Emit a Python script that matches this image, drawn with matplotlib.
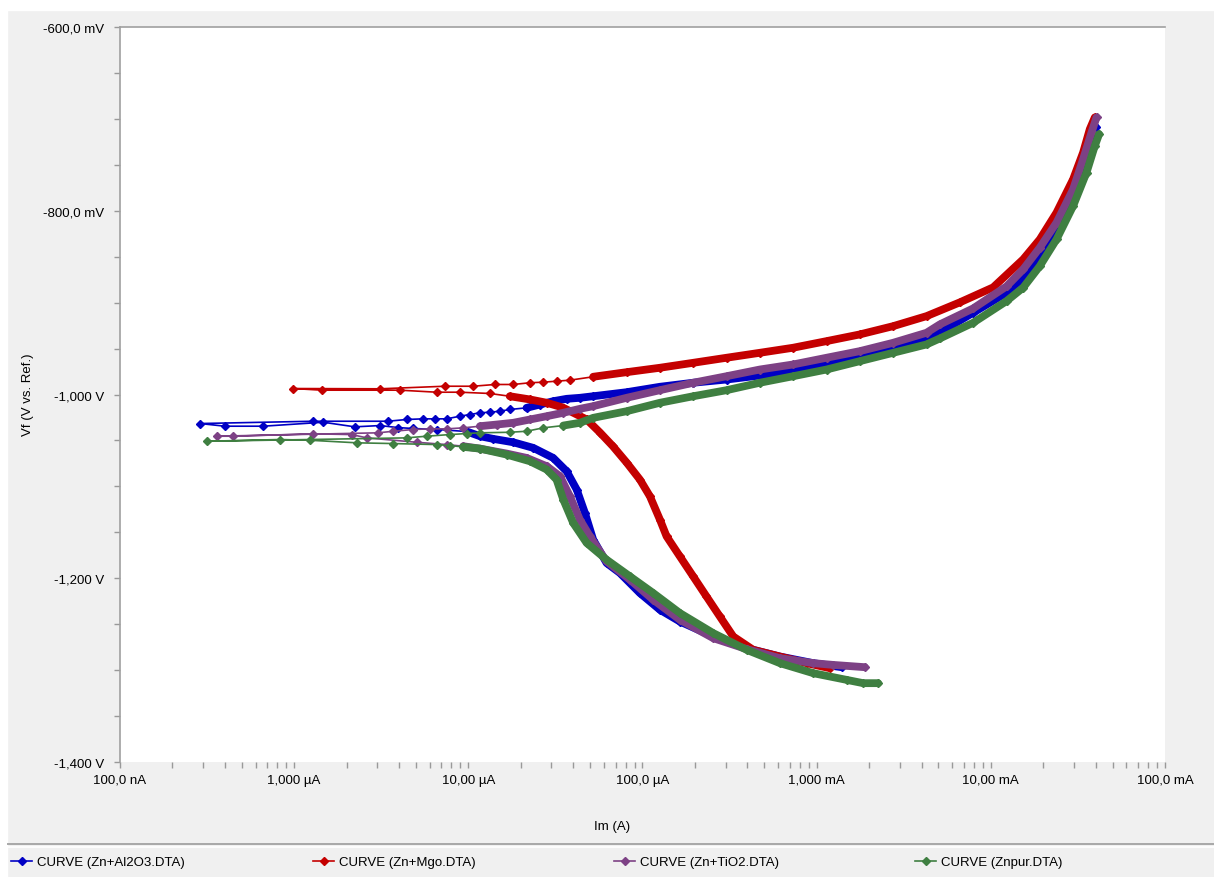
import matplotlib
matplotlib.use('Agg')
import matplotlib.pyplot as plt
import numpy as np
from matplotlib.lines import Line2D
from matplotlib.patches import Rectangle
from matplotlib.ticker import FixedLocator, FixedFormatter

plt.rcParams['font.family'] = ['Liberation Sans', 'DejaVu Sans']

# curve names and colours
labels = ['CURVE (Zn+Al2O3.DTA)', 'CURVE (Zn+Mgo.DTA)', 'CURVE (Zn+TiO2.DTA)', 'CURVE (Znpur.DTA)']
colors = ['#0000c4', '#c40000', '#7d4185', '#3f7f41']

# axis ticks / labels
x_ticks = [1e-7, 1e-6, 1e-5, 1e-4, 1e-3, 1e-2, 1e-1]
x_tick_labels = ['100,0 nA', '1,000 µA', '10,00 µA', '100,0 µA', '1,000 mA', '10,00 mA', '100,0 mA']
y_ticks = [-1.4, -1.2, -1.0, -0.8, -0.6]
y_tick_labels = ['-1,400 V', '-1,200 V', '-1,000 V', '-800,0 mV', '-600,0 mV']

# --- Zn+Al2O3 (current in uA, potential in mV) ---
al2o3_cat_ua = [1390, 955, 615, 396, 254.6, 163.9, 125.9, 96.6, 74.2, 62.2, 52.1, 46.7, 41.9, 36.7,
                30.7, 23.6, 18.1, 13.9, 11.66, 9.81, 6.6, 4.83, 3.94, 3.11, 2.23, 1.47, 0.665, 0.40, 0.288]
al2o3_cat_mv = [-1296.8, -1292.4, -1285.2, -1276.1, -1263.4, -1247.1, -1234.3, -1216.1, -1194.3, -1183.4,
                -1158, -1128.9, -1103.5, -1083.6, -1069, -1058.1, -1052, -1048.3, -1045.4, -1040.3, -1038.1,
                -1037, -1036, -1033.8, -1035.2, -1030.2, -1034.5, -1034.5, -1031.6]
al2o3_an_ua = [1.287, 3.455, 4.42, 5.49, 6.43, 7.51, 8.95, 10.21, 11.66, 13.3, 15.18, 17.33, 21.6, 25.8,
               30.7, 36.7, 43.7, 52.1, 81.1, 125.9, 195.5, 303.9, 472, 733, 1140, 1770, 2750, 4274, 5096,
               7915, 12310, 15330, 19110, 24900, 32420, 40070]
al2o3_an_mv = [-1029.1, -1029.1, -1027.2, -1026.5, -1026.5, -1026.5, -1023.6, -1021.8, -1019.9, -1019.3,
               -1018.2, -1016.3, -1014.5, -1010.9, -1007.3, -1004.7, -1003.6, -1001.9, -997.5, -991.6,
               -987.2, -983.7, -979.3, -974.6, -967.3, -958.9, -951, -940.1, -932.4, -911, -889.2,
               -872.8, -847.4, -811.4, -760.2, -709]

# --- Zn+MgO ---
mgo_cat_ua = [1191, 875, 615, 432, 332, 278, 233, 195.5, 163.9, 137.5, 125.9, 110.3, 96.6, 81.1, 67.6,
              57, 47.8, 34.9, 28.2, 22.6, 17.3, 13.3, 8.95, 6.58, 4.05, 1.44, 0.988]
mgo_cat_mv = [-1297.9, -1292.4, -1285.2, -1277.9, -1263.4, -1241.6, -1219.8, -1198, -1176.2, -1154.4,
              -1136.2, -1110.8, -1092.6, -1074.1, -1056.3, -1041.4, -1027.2, -1014.2, -1009, -1005.4,
              -1001.9, -998.9, -997.5, -997.5, -995.3, -995.3, -993.5]
mgo_an_ua = [3.11, 7.34, 10.67, 14.2, 18.1, 22.6, 26.9, 32.1, 38.3, 52.1, 81.1, 125.9, 195.5, 303.9, 472,
             733, 1140, 1770, 2750, 4274, 6640, 10310, 15330, 19110, 23840, 29680, 33870, 37000, 39540]
mgo_an_mv = [-993.8, -991, -991, -989.1, -989.1, -987.2, -986.6, -985.5, -984.4, -980.7, -975.7, -970.9,
             -965.5, -960, -954.6, -949.1, -941.9, -934.6, -925.6, -914.7, -899.7, -883.4, -852.9,
             -831.1, -802, -765.7, -736.6, -711.2, -698.4]

# --- Zn+TiO2 ---
tio2_cat_ua = [1891, 1239, 955, 615, 396, 254.6, 163.9, 115.2, 84.7, 62.2, 49.9, 43.7, 38.3, 33.6, 28.2,
               21.6, 16.6, 11.66, 9.35, 7.51, 5.05, 2.61, 2.14, 1.29, 0.447, 0.359]
tio2_cat_mv = [-1296.8, -1294.3, -1292.4, -1287, -1277.1, -1265.2, -1245.2, -1223.4, -1201.6, -1181.7,
               -1154.4, -1136.2, -1110.8, -1089, -1078.1, -1069, -1064.3, -1058.9, -1056.3, -1054.5,
               -1052, -1047.2, -1043.6, -1042.8, -1045.4, -1045.4]
tio2_an_ua = [3.04, 3.71, 4.83, 6.02, 7.51, 9.35, 11.66, 14.54, 18.1, 22.6, 28.2, 35.1, 43.7, 52.1, 81.1,
              125.9, 195.5, 303.9, 472, 733, 1140, 1770, 2750, 4274, 5096, 7915, 12310, 15330, 19110,
              23840, 29680, 33870, 37850, 40440]
tio2_an_mv = [-1041.7, -1040, -1038.1, -1037.4, -1037.4, -1036.3, -1034.5, -1032.7, -1030.8, -1027.2,
              -1023.6, -1019.9, -1015.6, -1012.7, -1003.6, -995.3, -987.2, -980.1, -972.8, -967.3, -960,
              -952.8, -943.7, -932.8, -923.7, -906.3, -882.3, -863.8, -840.1, -812.9, -776.6, -743.9,
              -714.8, -698.4]

# --- Zn pur ---
znpur_cat_ua = [2255, 1849, 1485, 955, 615, 396, 254.6, 163.9, 115.2, 84.7, 62.2, 47.8, 40, 35.1, 32.1,
                28.2, 22.6, 16.6, 11.66, 9.35, 7.84, 6.58, 3.71, 2.29, 1.23, 0.829, 0.315]
znpur_cat_mv = [-1314.2, -1314.2, -1310.6, -1303.3, -1292.4, -1277.9, -1259.7, -1237.9, -1216.1, -1198,
                -1179.8, -1161.6, -1139.8, -1114.4, -1092.6, -1081.7, -1072.7, -1065.4, -1058.9, -1057,
                -1055.6, -1054.5, -1053.4, -1052.6, -1049.8, -1049, -1050.9]
znpur_an_ua = [4.42, 5.76, 7.84, 9.78, 11.66, 17.3, 21.6, 26.9, 35.1, 43.7, 52.1, 81.1, 125.9, 195.5,
               303.9, 472, 733, 1140, 1770, 2750, 4274, 5096, 7915, 12310, 15330, 19110, 23840, 29680,
               35430, 39540, 41850]
znpur_an_mv = [-1047.2, -1045.4, -1043.6, -1042.5, -1041.7, -1041.1, -1040, -1036.3, -1033.8, -1030.8,
               -1025.4, -1018.2, -1009, -1001.9, -995.3, -987.2, -980.1, -972.8, -963.7, -954.6, -945.5,
               -939, -921.9, -898.3, -883.7, -860.2, -831.1, -794.8, -758.4, -729.4, -716.6]

curves = [
    (al2o3_cat_ua, al2o3_cat_mv, al2o3_an_ua, al2o3_an_mv),
    (mgo_cat_ua, mgo_cat_mv, mgo_an_ua, mgo_an_mv),
    (tio2_cat_ua, tio2_cat_mv, tio2_an_ua, tio2_an_mv),
    (znpur_cat_ua, znpur_cat_mv, znpur_an_ua, znpur_an_mv),
]
# where the measured points get so dense they merge into a thick band (uA)
dense_cat = [8, 15, 8, 8]
dense_an = [20, 50, 10, 30]

W, H = 1214, 878
fig = plt.figure(figsize=(W / 100, H / 100), dpi=100, facecolor='#f0f0f0')
fig.patches.append(Rectangle((0, 1 - 11 / H), 1, 11 / H, transform=fig.transFigure,
                             color='white', zorder=0))
fig.patches.append(Rectangle((0, 0), 7 / W, 1, transform=fig.transFigure, color='white', zorder=0))

ax = fig.add_axes([120 / W, 115 / H, 1045 / W, 735 / H])
ax.set_facecolor('white')

for (c_i, c_e, a_i, a_e), col, dc, da in zip(curves, colors, dense_cat, dense_an):
    ci = np.array(c_i) * 1e-6
    ce = np.array(c_e) / 1000
    ai = np.array(a_i) * 1e-6
    ae = np.array(a_e) / 1000
    allx = np.concatenate([ci, ai])
    ally = np.concatenate([ce, ae])
    ax.plot(allx, ally, '-', color=col, lw=1.2, marker='D', ms=4.0, mec=col, mfc=col)
    m = ci >= dc * 1e-6
    ax.plot(ci[m], ce[m], '-', color=col, lw=5.6, solid_capstyle='round', solid_joinstyle='round')
    m = ai >= da * 1e-6
    ax.plot(ai[m], ae[m], '-', color=col, lw=5.6, solid_capstyle='round', solid_joinstyle='round')

ax.set_xscale('log')
ax.set_xlim(1e-7, 1e-1)
ax.set_ylim(-1.4, -0.6)

ax.xaxis.set_major_locator(FixedLocator(x_ticks))
ax.xaxis.set_major_formatter(FixedFormatter(x_tick_labels))
ax.xaxis.set_minor_locator(FixedLocator([k * 10.0 ** n for n in range(-7, -1) for k in range(2, 10)]))
ax.yaxis.set_major_locator(FixedLocator(y_ticks))
ax.yaxis.set_major_formatter(FixedFormatter(y_tick_labels))
ax.yaxis.set_minor_locator(FixedLocator(np.arange(-1.35, -0.6, 0.05)))

ax.tick_params(axis='both', which='both', direction='out', length=4.5, width=1,
               color='#999999', labelsize=9.5)
ax.tick_params(axis='x', which='major', pad=4)
ax.tick_params(axis='y', which='major', pad=7)

for s in ['right', 'bottom']:
    ax.spines[s].set_visible(False)
for s in ['top', 'left']:
    ax.spines[s].set_color('#a0a0a0')
    ax.spines[s].set_linewidth(1.2)

fig.text(612 / W, 1 - 827 / H, 'Im (A)', ha='center', va='center', fontsize=9.5)
fig.text(28 / W, 1 - 395 / H, 'Vf (V vs. Ref.)', ha='center', va='center', rotation=90, fontsize=9.5)

# separator above legend
fig.add_artist(Line2D([8 / W, 1], [1 - 845 / H] * 2, transform=fig.transFigure, color='#a8a8a8', lw=1.4))
fig.add_artist(Line2D([8 / W, 1], [1 - 847.5 / H] * 2, transform=fig.transFigure, color='white', lw=1.2))

legend_x = [11, 313, 614, 915]
for lab, col, lx in zip(labels, colors, legend_x):
    h = Line2D([], [], color=col, lw=1.2, marker='D', ms=4.5)
    fig.legend([h], [lab], loc='center left', bbox_to_anchor=(lx / W, 1 - 863 / H),
               frameon=False, handlelength=1.6, handletextpad=0.4, borderpad=0,
               borderaxespad=0, fontsize=9.5)

fig.savefig('out.png', dpi=100, facecolor=fig.get_facecolor())
